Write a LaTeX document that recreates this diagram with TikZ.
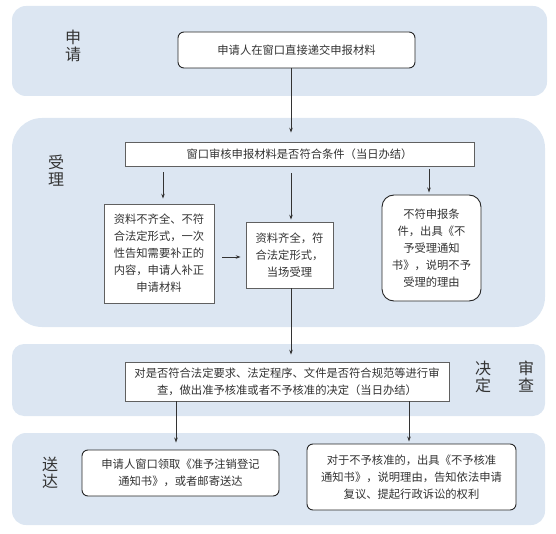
\documentclass[tikz,border=0pt]{standalone}
\usepackage{fontspec}
\setmainfont{Noto Sans CJK SC}
\usetikzlibrary{arrows.meta}

\definecolor{panelblue}{HTML}{DCE6F2}
\definecolor{inkgray}{HTML}{333333}
\newcommand*{\boxfont}{\fontsize{11.3}{17}\selectfont}
\newcommand*{\tagfont}{\fontsize{16}{17}\selectfont}

\begin{document}
\begin{tikzpicture}
[
	x=1pt, y=-1pt,
	panel/.style={fill=panelblue},
	squarebox/.style={draw=gray!75!black,fill=white,line width=0.7pt,align=center,inner sep=0pt,font=\boxfont,text=inkgray},
	roundbox/.style={squarebox,draw=black!85,line width=0.9pt,rounded corners=6pt},
	tag/.style={align=center,inner sep=0pt,font=\tagfont,text=inkgray},
	arr/.style={-{Stealth[length=5pt,width=3.5pt]},draw=inkgray,line width=0.9pt}
]
	\useasboundingbox (0,0) rectangle (556,534);

	% panels
	\fill[panel,rounded corners=14pt] (12,6) rectangle (547,96);
	\fill[panel,rounded corners=30pt] (12,118) rectangle (545,327);
	\fill[panel,rounded corners=12pt] (12,344) rectangle (545,416);
	\fill[panel,rounded corners=14pt] (12,433) rectangle (545,525);

	% stage labels
	\node[tag] (shen) at (73,46) {申\\请};
	\node[tag] (shou) at (56,171) {受\\理};
	\node[tag] (jue) at (483,377) {决\\定};
	\node[tag] (cha) at (526,377) {审\\查};
	\node[tag] (song) at (50,473) {送\\达};

	% boxes
	\node[roundbox,minimum width=237,minimum height=36] (submit) at (296.5,50) {申请人在窗口直接递交申报材料};
	\node[squarebox,minimum width=349,minimum height=24] (check) at (299.5,154) {窗口审核申报材料是否符合条件（当日办结）};
	\node[squarebox,minimum width=110,minimum height=99] (supply) at (159,253.5)
		{资料不齐全、不符\\合法定形式，一次\\性告知需要补正的\\内容，申请人补正\\申请材料};
	\node[squarebox,minimum width=87,minimum height=66] (accept) at (289.5,255)
		{资料齐全，符\\合法定形式，\\当场受理};
	\node[roundbox,rounded corners=12pt,minimum width=99,minimum height=106] (reject) at (431.5,248)
		{不符申报条\\件，出具《不\\予受理通知\\书》，说明不予\\受理的理由};
	\node[squarebox,minimum width=324,minimum height=39] (review) at (287,381.5)
		{对是否符合法定要求、法定程序、文件是否符合规范等进行审\\查，做出准予核准或者不予核准的决定（当日办结）};
	\node[roundbox,minimum width=197,minimum height=46] (grant) at (180.5,473)
		{申请人窗口领取《准予注销登记\\通知书》，或者邮寄送达};
	\node[roundbox,minimum width=209,minimum height=66] (deny) at (411.5,477)
		{对于不予核准的，出具《不予核准\\通知书》，说明理由，告知依法申请\\复议、提起行政诉讼的权利};

	% arrow columns
	\coordinate (colA) at (163,0);
	\coordinate (colB) at (291,0);
	\coordinate (colC) at (429,0);
	\coordinate (colD) at (176,0);
	\coordinate (colE) at (409,0);

	% connectors
	\draw[arr,shorten >=9pt] (submit.south -| colB) -- (check.north -| colB);
	\draw[arr,shorten <=6pt,shorten >=5pt] (check.south -| colA) -- (supply.north -| colA);
	\draw[arr,shorten <=7pt,shorten >=2pt] (check.south -| colB) -- (accept.north -| colB);
	\draw[arr,shorten <=3pt,shorten >=2pt] (check.south -| colC) -- (reject.north -| colC);
	\draw[arr,shorten <=8pt,shorten >=5pt] (supply.east |- 0,257) -- (accept.west |- 0,257);
	\draw[arr,shorten >=7pt] (accept.south -| colB) -- (review.north -| colB);
	\draw[arr,shorten >=7pt] (review.south -| colD) -- (grant.north -| colD);
	\draw[arr,shorten >=2pt] (review.south -| colE) -- (deny.north -| colE);

\end{tikzpicture}
\end{document}
